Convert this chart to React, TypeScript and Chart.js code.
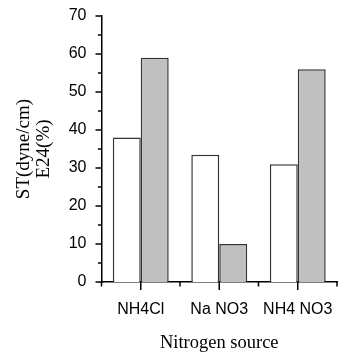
import React, { useEffect, useRef } from "react";
import { Chart, registerables } from "chart.js";

Chart.register(...registerables);

const categories = ["NH4Cl", "Na NO3", "NH4 NO3"];
const stValues = [38, 33.5, 31];
const e24Values = [59, 10, 56];
const yMin = 0;
const yMax = 70;
const yMinorStep = 5;
const yMajorStep = 10;

const tickPlugin = {
  id: "originTicks",
  afterDraw(chart: any) {
    const ctx = chart.ctx;
    const xs = chart.scales.x;
    const ys = chart.scales.y;
    const area = chart.chartArea;
    ctx.save();
    ctx.strokeStyle = "#000";
    ctx.lineWidth = 1.5;
    ctx.beginPath();
    for (let v = yMin; v <= yMax; v += yMinorStep) {
      const py = ys.getPixelForValue(v);
      const len = v % yMajorStep === 0 ? 6 : 3.5;
      ctx.moveTo(area.left, py);
      ctx.lineTo(area.left - len, py);
    }
    const n = categories.length;
    for (let i = 0; i < n; i++) {
      const px = xs.getPixelForValue(i);
      ctx.moveTo(px, area.bottom);
      ctx.lineTo(px, area.bottom + 8);
    }
    for (let i = 0; i <= n; i++) {
      let px: number;
      if (i === 0) px = area.left;
      else if (i === n) px = area.right;
      else px = (xs.getPixelForValue(i - 1) + xs.getPixelForValue(i)) / 2;
      ctx.moveTo(px, area.bottom);
      ctx.lineTo(px, area.bottom + 4.5);
    }
    ctx.stroke();
    ctx.restore();
  },
};

export default function App() {
  const ref = useRef<HTMLCanvasElement>(null);
  useEffect(() => {
    if (!ref.current) return;
    const chart = new Chart(ref.current, {
      type: "bar",
      data: {
        labels: categories,
        datasets: [
          {
            label: "ST(dyne/cm)",
            data: stValues,
            backgroundColor: "#ffffff",
            borderColor: "#333333",
            borderWidth: 1.5,
          },
          {
            label: "E24(%)",
            data: e24Values,
            backgroundColor: "#c0c0c0",
            borderColor: "#333333",
            borderWidth: 1.5,
          },
        ],
      },
      options: {
        responsive: false,
        animation: false,
        layout: { padding: { top: 16, right: 9, left: 0, bottom: 0 } },
        plugins: { legend: { display: false }, tooltip: { enabled: false } },
        datasets: { bar: { categoryPercentage: 0.712, barPercentage: 1 } },
        scales: {
          x: {
            z: 1,
            grid: { display: false, drawTicks: false },
            border: { display: true, color: "#000", width: 1.5 },
            ticks: {
              color: "#000",
              padding: 18,
              font: { family: "'Liberation Sans', Arial, sans-serif", size: 16 },
            },
            title: {
              display: true,
              text: "Nitrogen source",
              color: "#000",
              font: { family: "'Liberation Serif', 'Times New Roman', serif", size: 18.5 },
              padding: { top: 5, bottom: 0 },
            },
            afterFit(scale: any) {
              scale.height = 72;
              scale.paddingLeft = 0;
              scale.paddingRight = 0;
            },
          },
          y: {
            z: 1,
            min: yMin,
            max: yMax,
            grid: { display: false, drawTicks: false },
            border: { display: true, color: "#000", width: 1.5 },
            ticks: {
              stepSize: yMajorStep,
              color: "#000",
              padding: 15,
              font: { family: "'Liberation Sans', Arial, sans-serif", size: 16 },
            },
            title: {
              display: true,
              text: ["ST(dyne/cm)", "E24(%)"],
              color: "#000",
              font: { family: "'Liberation Serif', 'Times New Roman', serif", size: 19, lineHeight: 1.05 },
              padding: { top: 14, bottom: 0 },
            },
            afterFit(scale: any) {
              scale.width = 101.5;
              scale.paddingTop = 0;
              scale.paddingBottom = 0;
            },
          },
        },
      },
      plugins: [tickPlugin],
    });
    return () => chart.destroy();
  }, []);
  return (
    <div style={{ position: "absolute", left: 0, top: 0, width: 346, height: 354, background: "#fff" }}>
      <canvas ref={ref} width={346} height={354} style={{ display: "block" }} />
    </div>
  );
}
